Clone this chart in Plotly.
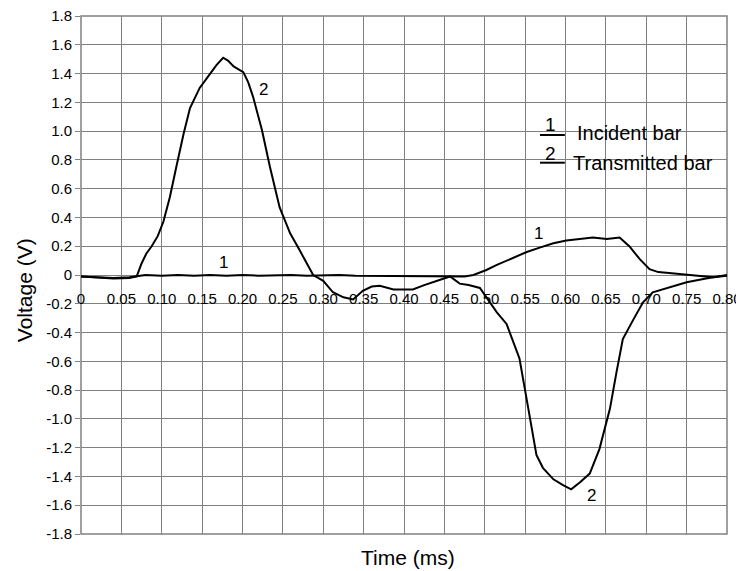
import plotly.graph_objects as go

# ---- data ----
time_incident = [0.0, 0.02, 0.04, 0.06, 0.08, 0.10, 0.12, 0.14, 0.16, 0.18, 0.20, 0.22, 0.24, 0.26,
                 0.28, 0.30, 0.32, 0.34, 0.36, 0.38, 0.40, 0.42, 0.44, 0.46, 0.475, 0.486, 0.502,
                 0.515, 0.527, 0.540, 0.552, 0.568, 0.585, 0.601, 0.618, 0.634, 0.651, 0.667,
                 0.679, 0.692, 0.704, 0.715, 0.725, 0.750, 0.770, 0.783, 0.800]
volt_incident = [-0.01, -0.015, -0.02, -0.015, 0.0, -0.005, 0.0, -0.005, 0.0, -0.005, 0.0, -0.005,
                 0.0, 0.0, -0.005, 0.0, 0.0, -0.005, -0.005, -0.01, -0.005, -0.01, -0.01, -0.005,
                 -0.01, 0.0, 0.035, 0.07, 0.10, 0.13, 0.16, 0.19, 0.22, 0.24, 0.25, 0.26, 0.25,
                 0.26, 0.20, 0.11, 0.04, 0.02, 0.015, 0.0, -0.01, -0.015, -0.005]

time_transmitted = [0.0, 0.02, 0.04, 0.06, 0.069, 0.075, 0.081, 0.0875, 0.095, 0.102, 0.110, 0.118,
                    0.127, 0.135, 0.147, 0.160, 0.168, 0.176, 0.182, 0.189, 0.201, 0.207, 0.213,
                    0.224, 0.234, 0.246, 0.259, 0.271, 0.2875, 0.300, 0.312, 0.325, 0.337, 0.349,
                    0.360, 0.370, 0.387, 0.400, 0.411, 0.425, 0.436, 0.447, 0.457, 0.469, 0.480,
                    0.494, 0.506, 0.515, 0.527, 0.543, 0.554, 0.564, 0.572, 0.585, 0.597, 0.607,
                    0.618, 0.630, 0.642, 0.655, 0.663, 0.671, 0.684, 0.696, 0.708, 0.729, 0.750,
                    0.774, 0.790, 0.800]
volt_transmitted = [-0.01, -0.02, -0.025, -0.02, -0.01, 0.08, 0.15, 0.20, 0.27, 0.37, 0.54, 0.75,
                    0.98, 1.16, 1.30, 1.40, 1.46, 1.51, 1.49, 1.45, 1.41, 1.34, 1.24, 1.01, 0.75,
                    0.47, 0.29, 0.17, 0.0, -0.04, -0.12, -0.155, -0.17, -0.11, -0.08, -0.075,
                    -0.10, -0.10, -0.10, -0.07, -0.05, -0.03, -0.01, -0.06, -0.07, -0.09, -0.19,
                    -0.26, -0.34, -0.58, -0.93, -1.25, -1.34, -1.42, -1.46, -1.49, -1.44, -1.38,
                    -1.21, -0.93, -0.68, -0.445, -0.31, -0.19, -0.12, -0.085, -0.05, -0.025,
                    -0.01, 0.0]

x_tick_vals = [0.0, 0.05, 0.10, 0.15, 0.20, 0.25, 0.30, 0.35, 0.40, 0.45, 0.50, 0.55, 0.60, 0.65,
               0.70, 0.75, 0.80]
x_tick_text = ["0", "0.05", "0.10", "0.15", "0.20", "0.25", "0.30", "0.35", "0.40", "0.45", "0.50",
               "0.55", "0.60", "0.65", "0.70", "0.75", "0.80"]
y_tick_vals = [1.8, 1.6, 1.4, 1.2, 1.0, 0.8, 0.6, 0.4, 0.2, 0.0, -0.2, -0.4, -0.6, -0.8, -1.0,
               -1.2, -1.4, -1.6, -1.8]
y_tick_text = ["1.8", "1.6", "1.4", "1.2", "1.0", "0.8", "0.6", "0.4", "0.2", "0", "-0.2", "-0.4",
               "-0.6", "-0.8", "-1.0", "-1.2", "-1.4", "-1.6", "-1.8"]

curve_labels = [("2", 0.2257, 1.29), ("1", 0.176, 0.088), ("1", 0.567, 0.29), ("2", 0.632, -1.53)]

FONT = "Liberation Sans, Arial, sans-serif"
GRID = "#808080"


def paper_text(x, y, text, size, xanchor="center", angle=0):
    fig.add_annotation(xref="paper", yref="paper", x=x, y=y, text=text, showarrow=False,
                       xanchor=xanchor, yanchor="middle", textangle=angle,
                       font=dict(family=FONT, size=size, color="black"))


fig = go.Figure()
fig.add_trace(go.Scatter(x=time_incident, y=volt_incident, mode="lines",
                         line=dict(color="black", width=2), name="Incident bar",
                         showlegend=False))
fig.add_trace(go.Scatter(x=time_transmitted, y=volt_transmitted, mode="lines",
                         line=dict(color="black", width=2), name="Transmitted bar",
                         showlegend=False))

for txt, xv, yv in curve_labels:
    fig.add_annotation(x=xv, y=yv, text=txt, showarrow=False, xanchor="center", yanchor="middle",
                       font=dict(family=FONT, size=17, color="black"))

# legend built from text + short rules
paper_text(0.7265, 0.7910, "1", 19)
paper_text(0.7640, 0.7732, "Incident bar", 20, xanchor="left")
paper_text(0.7275, 0.7340, "2", 19)
paper_text(0.7590, 0.7162, "Transmitted bar", 20, xanchor="left")
fig.add_shape(type="line", xref="paper", yref="paper", x0=0.7105, x1=0.7490, y0=0.7703, y1=0.7703,
              line=dict(color="black", width=2))
fig.add_shape(type="line", xref="paper", yref="paper", x0=0.7105, x1=0.7490, y0=0.7168, y1=0.7168,
              line=dict(color="black", width=2))

# frame
fig.add_shape(type="rect", xref="paper", yref="paper", x0=0, x1=1, y0=0, y1=1,
              line=dict(color=GRID, width=1.5), layer="below")

# axis titles
paper_text(-0.088, 0.471, "Voltage (V)", 21, angle=-90)
paper_text(0.506, -0.046, "Time (ms)", 21)

fig.update_layout(
    width=736, height=563,
    margin=dict(l=73, r=17, t=8, b=37, autoexpand=False),
    paper_bgcolor="white", plot_bgcolor="white",
    showlegend=False,
    xaxis=dict(range=[0, 0.8], tickvals=x_tick_vals, ticktext=x_tick_text,
               anchor="free", position=0.5, showline=False, zeroline=False,
               showgrid=True, gridcolor=GRID, gridwidth=1, automargin=False,
               ticks="outside", ticklen=10, tickcolor="rgba(0,0,0,0)",
               ticklabeloverflow="allow",
               tickfont=dict(family=FONT, size=15, color="black")),
    yaxis=dict(range=[-1.8, 1.8], tickvals=y_tick_vals, ticktext=y_tick_text,
               showline=False, zeroline=False, showgrid=True, gridcolor=GRID, gridwidth=1.3,
               ticks="outside", ticklen=5, tickcolor=GRID, automargin=False,
               ticklabeloverflow="allow",
               tickfont=dict(family=FONT, size=15, color="black")),
)

fig.write_html("out.html")
